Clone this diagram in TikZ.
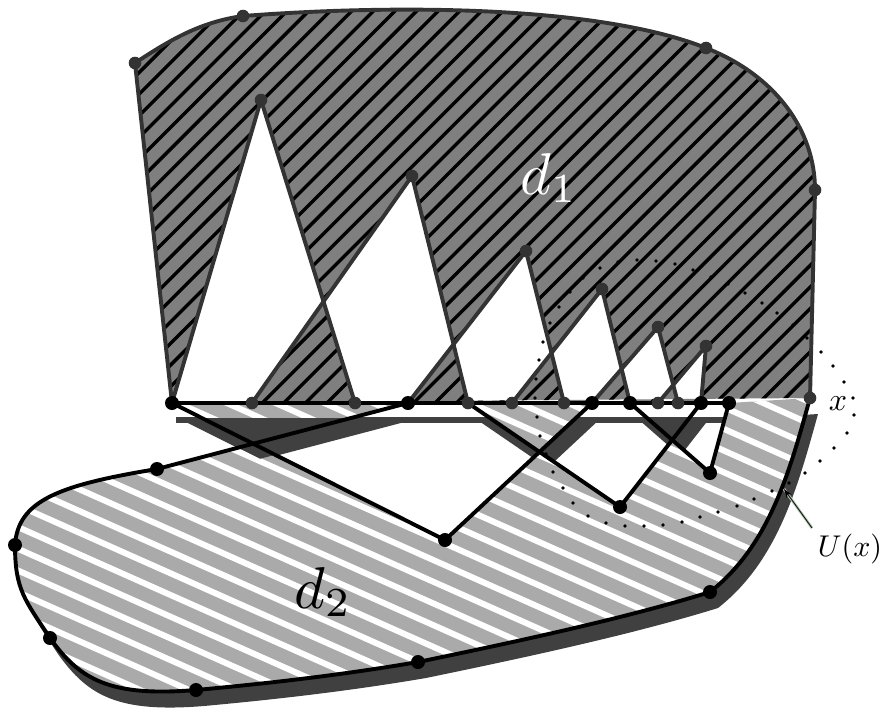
\documentclass[tikz,border=0pt]{standalone}
\usetikzlibrary{arrows.meta}
\definecolor{done}{HTML}{7F7F7F}
\definecolor{dtwo}{HTML}{AAAAAA}
\definecolor{shad}{HTML}{404040}
\definecolor{edgegray}{HTML}{333333}
\definecolor{arrgreen}{HTML}{0A2A0A}
\begin{document}
\begin{tikzpicture}[x=1pt,y=-1pt,
  onestroke/.style={draw=edgegray,line width=3.9pt,line join=round},
  twostroke/.style={draw=black,line width=3.9pt,line join=round},
  graydot/.style={fill=edgegray},
  blackdot/.style={fill=black},
  lab/.style={inner sep=0pt}]
\useasboundingbox (0,0) rectangle (885,715);
% d1 outer
\coordinate (p1) at (135,63);
\coordinate (p2) at (243,16);
\coordinate (p3) at (706,48);
\coordinate (p4) at (815,190);
\coordinate (X) at (810,398);
% peaks
\coordinate (t1) at (261,100);
\coordinate (t2) at (412,176);
\coordinate (t3) at (526,251);
\coordinate (t4) at (602,289);
\coordinate (t5) at (658,327);
\coordinate (t6) at (706,346);
% base points
\coordinate (b1) at (172,403);
\coordinate (b2) at (252,403);
\coordinate (b3) at (355,403);
\coordinate (b4) at (408,403);
\coordinate (b5) at (468,403);
\coordinate (b6) at (512,403);
\coordinate (b7) at (564,403);
\coordinate (b8) at (592,403);
\coordinate (b9) at (630,403);
\coordinate (b10) at (658,403);
\coordinate (b11) at (678,403);
\coordinate (b12) at (701,403);
\coordinate (b13) at (729,403);
% d2
\coordinate (q1) at (157,469);
\coordinate (q2) at (15,545);
\coordinate (q3) at (50,638);
\coordinate (q4) at (196,690);
\coordinate (q5) at (418,662);
\coordinate (q6) at (710,592);
\coordinate (m1) at (445,540);
\coordinate (m2) at (620,507);
\coordinate (m3) at (710,473);
\coordinate (k) at (intersection of m2--b12 and b9--m3);
\coordinate (c) at (intersection of b1--m1 and q1--b4);

\newcommand\donepath{(b1) -- (p1) .. controls (170,40) and (200,22) .. (p2)
  .. controls (400,4) and (600,6) .. (p3) .. controls (775,75) and (815,130) .. (p4)
  -- (X) -- cycle
  (b1) -- (t1) -- (b3) -- cycle
  (b2) -- (t2) -- (b5) -- cycle
  (b4) -- (t3) -- (b7) -- cycle
  (b6) -- (t4) -- (b9) -- cycle
  (b8) -- (t5) -- (b11) -- cycle
  (b10) -- (t6) -- (b12) -- cycle}
\newcommand\dtwoouter{(X)
  .. controls (790,470) and (770,545) .. (q6) .. controls (620,620) and (500,645) .. (q5)
  .. controls (330,677) and (250,685) .. (q4) .. controls (110,697) and (80,680) .. (q3)
  .. controls (25,600) and (15,590) .. (q2) .. controls (18,500) and (60,485) .. (q1)}
\newcommand\dtwoshadow{\dtwoouter -- (b4) -- (b1)
  -- (m1) -- (b8) -- (b5) -- (m2) -- (b12) -- (b9) -- (m3) -- (b13) -- cycle}
\newcommand\dtwofill{\dtwoouter -- (b4) -- (b1)
  -- (m1) -- (b8) -- (b5) -- (m2) -- (k) -- (m3) -- (b13) -- cycle}

% shadow of d2
\begin{scope}[transform canvas={shift={(8,16)}}]
  \fill[shad,even odd rule] \dtwoshadow;
\end{scope}
\fill[shad] (176,417) rectangle (740,423);
% d2 fill and hatch
\begin{scope}[even odd rule]
  \clip \dtwofill;
  \fill[dtwo] (0,0) rectangle (885,715);
  \foreach \c in {20,41.7,...,720} \draw[white,line width=6pt] (0,\c) -- (900,\c+400.5);
\end{scope}
% shadow over the first lobe
\begin{scope}[transform canvas={shift={(7,15)}}]
  \fill[shad] (b1) -- (b4) -- (c) -- cycle;
\end{scope}
% d1 fill and hatch
\begin{scope}[even odd rule]
  \clip \donepath;
  \fill[done] (0,0) rectangle (885,715);
  \foreach \k in {190,211.6,...,1230} \draw[black,line width=3.4pt] (\k-800,800) -- (\k,0);
\end{scope}
% d1 strokes
\draw[onestroke] (b1) -- (p1) .. controls (170,40) and (200,22) .. (p2)
  .. controls (400,4) and (600,6) .. (p3) .. controls (775,75) and (815,130) .. (p4) -- (X);
\draw[onestroke] (b1) -- (t1) -- (b3);
\draw[onestroke] (b2) -- (t2) -- (b5);
\draw[onestroke] (b4) -- (t3) -- (b7);
\draw[onestroke] (b6) -- (t4) -- (b9);
\draw[onestroke] (b8) -- (t5) -- (b11);
\draw[onestroke] (b10) -- (t6) -- (b12);
% d2 strokes
\draw[twostroke] \dtwoouter -- (b4);
\draw[twostroke] (b1) -- (b13);
\draw[twostroke] (b1) -- (m1) -- (b8);
\draw[twostroke] (b5) -- (m2) -- (b12);
\draw[twostroke] (b9) -- (m3) -- (b13);
% dotted neighbourhood
\foreach \p in {(535,398),(536,379),(539,360),(543,342),(550,323),(559,307),(570,292),(583,278),
  (600,268),(618,262),(637,260),(656,261),(675,264),(693,270),(711,277),(728,284),(745,293),
  (762,303),(777,313),(793,325),(807,338),(821,352),(833,366),(844,382),(853,398),(854,415),
  (847,433),(834,448),(820,461),(805,473),(789,483),(772,491),(754,499),(737,506),(718,512),
  (700,517),(682,522),(663,525),(644,526),(625,526),(606,523),(588,516),(573,503),(563,488),
  (553,472),(546,454),(540,436),(537,417)}
  \fill[black] \p circle (1.9pt);
% dots
\foreach \n in {p1,p2,p3,p4,X,t1,t2,t3,t4,t5,t6,b2,b3,b5,b6,b7,b10,b11}
  \fill[graydot] (\n) circle (6.3pt);
\foreach \n in {b1,b4,b8,b9,b12,b13,q1,q2,q3,q4,q5,q6,m1,m2,m3}
  \fill[blackdot] (\n) circle (7pt);
% labels
\node[lab,text=white,scale=5.9] (lone) at (549,178) {$d_1$};
\node[lab,scale=5.9] (ltwo) at (323,592) {$d_2$};
\node[lab,scale=3.2] (lx) at (838,404) {$x$};
\node[lab,scale=3] (ulab) at (850,549) {$U(x)$};
\coordinate (ustart) at (812,528);
\coordinate (uend) at (784,489);
\draw[gray!45,line width=2.8pt] (ustart) -- (uend);
\draw[arrgreen,line width=1pt,-{Stealth[length=9pt,width=6pt,black]}] (ustart) -- (uend);
\end{tikzpicture}
\end{document}
